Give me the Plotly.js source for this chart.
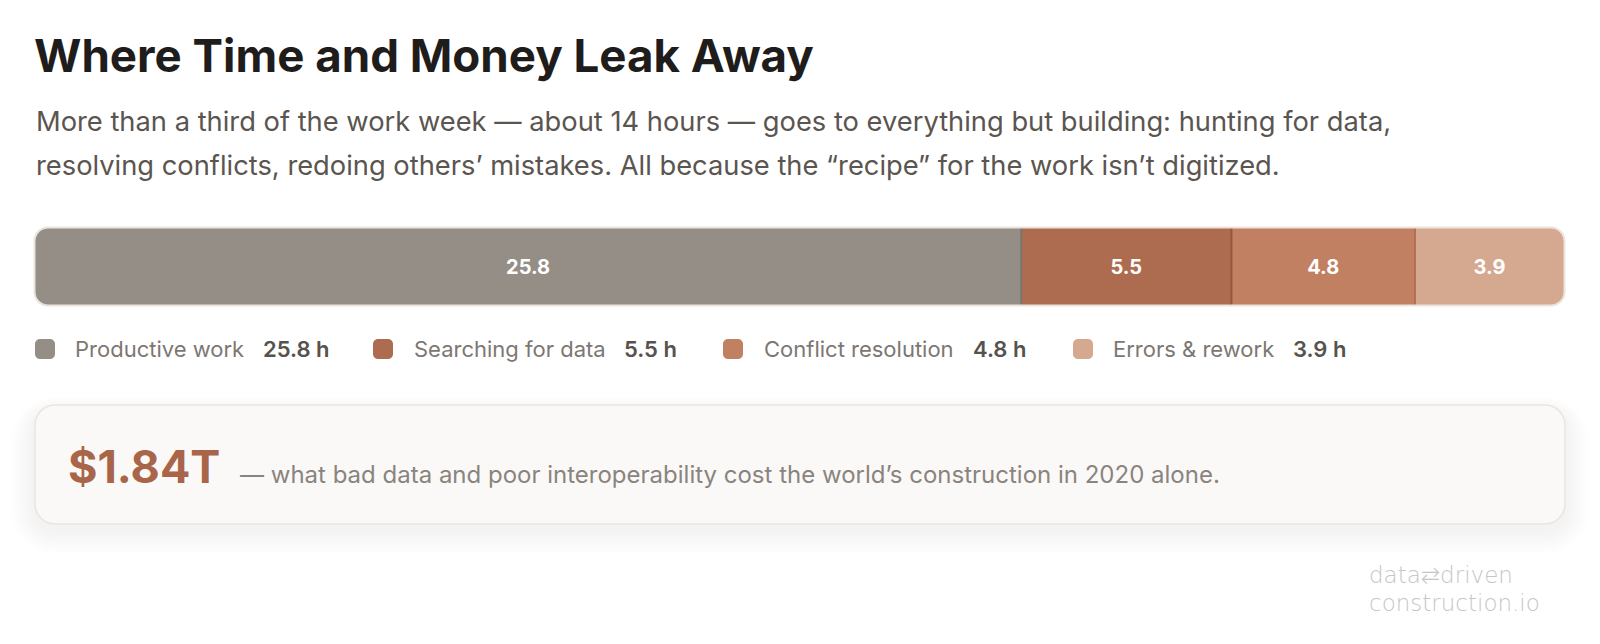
<!DOCTYPE html>
<html><head><meta charset="utf-8">
<script src="https://cdn.plot.ly/plotly-3.0.1.min.js"></script>
<style>html,body{margin:0;padding:0;background:#fff;} #chart{width:1600px;height:644px;}</style>
</head><body><div id="chart"></div>
<script>
// ---- data ----
const categories = ["Productive work", "Searching for data", "Conflict resolution", "Errors & rework"];
const hours = [25.8, 5.5, 4.8, 3.9];
const barLabels = ["25.8", "5.5", "4.8", "3.9"];
const legendValues = ["25.8 h", "5.5 h", "4.8 h", "3.9 h"];
const titleText = "Where Time and Money Leak Away";
const subtitleLines = [
  "More than a third of the work week \u2014 about 14 hours \u2014 goes to everything but building: hunting for data,",
  "resolving conflicts, redoing others\u2019 mistakes. All because the \u201crecipe\u201d for the work isn\u2019t digitized."
];
const headline = "$1.84T";
const headlineNote = "\u2014 what bad data and poor interoperability cost the world\u2019s construction in 2020 alone.";
const logoLines = ["data\u21c4driven", "construction.io"];

// ---- style ----
const colors = ["#958e87", "#ad6c4f", "#c28063", "#d5a990"];
const dividerColors = ["#7b756f", "#94573c", "#b06e52"];
const FONT = "Inter, 'Noto Sans', sans-serif";

const PW_ = 1600, PH_ = 644;
const L = 35, R = 1564, T = 228, B = 305;
const PW = R - L, PH = B - T;
const X = px => (px - L) / PW;
const Y = py => (B - py) / PH;

function rr(x0, y0, x1, y1, r) {
  const c = 0.5523 * r;
  const p = (x, y) => X(x).toFixed(6) + ',' + Y(y).toFixed(6);
  return 'M' + p(x0 + r, y0) +
    ' L' + p(x1 - r, y0) +
    ' C' + p(x1 - r + c, y0) + ' ' + p(x1, y0 + r - c) + ' ' + p(x1, y0 + r) +
    ' L' + p(x1, y1 - r) +
    ' C' + p(x1, y1 - r + c) + ' ' + p(x1 - r + c, y1) + ' ' + p(x1 - r, y1) +
    ' L' + p(x0 + r, y1) +
    ' C' + p(x0 + r - c, y1) + ' ' + p(x0, y1 - r + c) + ' ' + p(x0, y1 - r) +
    ' L' + p(x0, y0 + r) +
    ' C' + p(x0, y0 + r - c) + ' ' + p(x0 + r - c, y0) + ' ' + p(x0 + r, y0) + ' Z';
}
function rectPath(x0, y0, x1, y1) {
  const p = (x, y) => X(x).toFixed(6) + ',' + Y(y).toFixed(6);
  return 'M' + p(x0, y0) + ' L' + p(x1, y0) + ' L' + p(x1, y1) + ' L' + p(x0, y1) + ' Z';
}

const total = hours.reduce((a, b) => a + b, 0);

const traces = categories.map((c, i) => ({
  type: 'bar',
  orientation: 'h',
  name: c,
  y: ['week'],
  x: [hours[i]],
  text: [barLabels[i]],
  textposition: 'inside',
  insidetextanchor: 'middle',
  textangle: 0,
  textfont: {family: FONT, size: 20, color: '#ffffff', weight: 700},
  marker: {color: colors[i], line: {width: 0}},
  hoverinfo: 'skip',
  showlegend: false
}));

const shapes = [];
// card shadow
for (let i = 1; i <= 12; i++) {
  shapes.push({type: 'path', xref: 'paper', yref: 'paper', layer: 'below',
    path: rr(35 - i * 2, 405 - i * 1.2 + 6, 1565 + i * 2, 524 + i * 2 + 6, 20 + i * 2),
    fillcolor: 'rgba(0,0,0,0.005)', line: {width: 0}});
}
// card
shapes.push({type: 'path', xref: 'paper', yref: 'paper', layer: 'below',
  path: rr(35, 405, 1565, 524, 20), fillcolor: '#fbf9f7', line: {color: '#ebe5de', width: 1.5}});

// dividers between segments
let cum = 0;
for (let i = 0; i < hours.length - 1; i++) {
  cum += hours[i];
  shapes.push({type: 'line', xref: 'x', yref: 'paper', x0: cum, x1: cum, y0: 0, y1: 1,
    layer: 'above', line: {color: dividerColors[i], width: 2}});
}
// mask for rounded bar ends
shapes.push({type: 'path', xref: 'paper', yref: 'paper', layer: 'above', fillrule: 'evenodd',
  path: rectPath(L - 8, T - 8, R + 8, B + 8) + ' ' + rr(L, T, R, B, 13),
  fillcolor: '#ffffff', line: {width: 0}});
// bar border
shapes.push({type: 'path', xref: 'paper', yref: 'paper', layer: 'above',
  path: rr(L - 0.5, T - 0.5, R + 0.5, B + 0.5, 13.5), fillcolor: 'rgba(0,0,0,0)',
  line: {color: '#ebe4dc', width: 2}});

// legend squares
const sqX = [35, 373, 723, 1073];
const lblX = [73, 412, 762, 1111];
const valX = [261, 622, 971, 1291];
const legY = 349;
categories.forEach((c, i) => {
  shapes.push({type: 'path', xref: 'paper', yref: 'paper', layer: 'above',
    path: rr(sqX[i], legY - 10, sqX[i] + 20, legY + 10, 5), fillcolor: colors[i], line: {width: 0}});
});

const annotations = [];
function ann(text, x, y, font, xanchor) {
  annotations.push({text: text, xref: 'paper', yref: 'paper', x: X(x), y: Y(y),
    xanchor: xanchor || 'left', yanchor: 'middle', showarrow: false, font: font, align: 'left'});
}
ann(subtitleLines[0], 34, 121, {family: FONT, size: 27.3, color: '#5b5550'});
ann(subtitleLines[1], 34, 165, {family: FONT, size: 27.3, color: '#5b5550'});
categories.forEach((c, i) => {
  ann(c, lblX[i], legY, {family: FONT, size: 22, color: '#7d7772'});
  ann(legendValues[i], valX[i], legY, {family: FONT, size: 22, color: '#57524d', weight: 600});
});
ann(headline, 66, 466, {family: FONT, size: 45, color: '#a9654a', weight: 700});
ann(headlineNote, 238, 474, {family: FONT, size: 24, color: '#8a847e'});
ann(logoLines[0], 1367, 575, {family: "'DejaVu Sans', sans-serif", size: 23, color: '#c6c6c6', weight: 300});
ann(logoLines[1], 1367, 602.5, {family: "'DejaVu Sans', sans-serif", size: 23, color: '#c6c6c6', weight: 300});

const layout = {
  width: PW_, height: PH_,
  paper_bgcolor: '#ffffff', plot_bgcolor: '#ffffff',
  margin: {l: L, r: PW_ - R, t: T, b: PH_ - B, pad: 0},
  title: {text: titleText, xref: 'container', yref: 'container', x: 34 / PW_, xanchor: 'left',
    y: 1 - 56 / PH_, yanchor: 'middle',
    font: {family: FONT, size: 45.7, color: '#1f1d1b', weight: 700}},
  barmode: 'stack', bargap: 0,
  xaxis: {range: [0, total], visible: false, fixedrange: true},
  yaxis: {range: [-0.5, 0.5], visible: false, fixedrange: true},
  shapes: shapes,
  annotations: annotations,
  showlegend: false,
  hovermode: false
};

Plotly.newPlot('chart', traces, layout, {displayModeBar: false, staticPlot: true});
</script>
</body></html>
